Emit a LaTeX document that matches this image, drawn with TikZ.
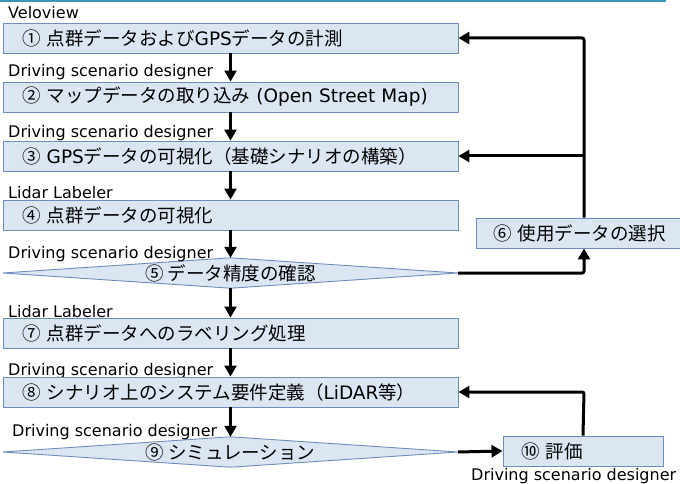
\documentclass[tikz,border=0pt]{standalone}
\usepackage{fontspec}
\setmainfont{DejaVu Sans}
\newfontfamily\jpfont{Noto Sans CJK JP}
\newfontfamily\latfont{DejaVu Sans}
\newcommand{\lat}[1]{{\latfont #1}}
\usetikzlibrary{arrows.meta,backgrounds}
\definecolor{boxfill}{RGB}{220,229,242}
\definecolor{boxline}{RGB}{110,140,188}
\definecolor{topline}{RGB}{60,150,178}
\tikzset{
  x=1pt,y=-1pt,
  boxfont/.style={font=\jpfont\fontsize{18.5}{21}\selectfont},
  stepbox/.style={draw=boxline,fill=boxfill,line width=0.9pt,minimum width=455pt,minimum height=30pt,
    text width=417pt,inner xsep=19pt,inner ysep=0pt,align=left,boxfont},
  sidebox/.style={draw=boxline,fill=boxfill,line width=0.9pt,minimum height=30pt,
    inner ysep=0pt,align=left,boxfont},
  decide/.style={rectangle,draw=none,minimum width=455pt,minimum height=30pt,inner sep=0pt,boxfont},
  decideshape/.style={draw=boxline,fill=boxfill,line width=0.9pt},
  tooltxt/.style={anchor=west,inner sep=0pt,font=\fontsize{16}{18}\selectfont},
  flow/.style={line width=2.4pt,-{Triangle[width=12pt,length=11pt]}},
  back/.style={line width=3pt,rounded corners=2pt,-{Triangle[width=12pt,length=11pt]}}
}
\begin{document}
\begin{tikzpicture}
\useasboundingbox (0,0) rectangle (680,484);
\draw[topline,line width=2pt] (0,1) -- (666,1);

\node[tooltxt] (l1) at (8,13) {Veloview};
\node[stepbox] (b1) at (230.5,38) {① 点群データおよび\lat{GPS}データの計測};
\node[tooltxt] (l2) at (8,72) {Driving scenario designer};
\node[stepbox] (b2) at (230.5,97) {② マップデータの取り込み \lat{(Open Street Map)}};
\node[tooltxt] (l3) at (8,133) {Driving scenario designer};
\node[stepbox] (b3) at (230.5,156) {③ \lat{GPS}データの可視化（基礎シナリオの構築）};
\node[tooltxt] (l4) at (8,193) {Lidar Labeler};
\node[stepbox] (b4) at (230.5,215) {④ 点群データの可視化};
\node[tooltxt] (l5) at (8,254) {Driving scenario designer};
\node[decide] (d5) at (230.5,273) {⑤ データ精度の確認};
\node[sidebox,minimum width=216pt,text width=182pt,inner xsep=17pt] (b6) at (584,233) {⑥ 使用データの選択};
\node[tooltxt] (l7) at (8,312) {Lidar Labeler};
\node[stepbox] (b7) at (230.5,333) {⑦ 点群データへのラベリング処理};
\node[tooltxt] (l8) at (8,371) {Driving scenario designer};
\node[stepbox] (b8) at (230.5,392) {⑧ シナリオ上のシステム要件定義（\lat{LiDAR}等）};
\node[tooltxt] (l9) at (12,432) {Driving scenario designer};
\node[decide] (d9) at (230.5,452) {⑨ シミュレーション};
\node[sidebox,minimum width=160pt,text width=124pt,inner xsep=18pt] (b10) at (583,451) {⑩ 評価};
\node[tooltxt] (l10) at (471,476) {Driving scenario designer};

\begin{scope}[on background layer]
\draw[decideshape] (d5.west) -- (d5.north) -- (d5.east) -- (d5.south) -- cycle;
\draw[decideshape] (d9.west) -- (d9.north) -- (d9.east) -- (d9.south) -- cycle;
\end{scope}

\coordinate (c5) at (584,273);
\coordinate (c6) at (584,38);
\coordinate (c3) at (584,156);
\coordinate (c10) at (584,392);

\draw[flow] (b1.south) -- (b2.north);
\draw[flow] (b2.south) -- (b3.north);
\draw[flow] (b3.south) -- (b4.north);
\draw[flow] (b4.south) -- (d5.north);
\draw[flow] (d5.south) -- (b7.north);
\draw[flow] (b7.south) -- (b8.north);
\draw[flow] (b8.south) -- (d9.north);

\draw[back] (d5.east) -- (c5) -- (b6.south);
\draw[back] (b6.north) -- (c6) -- (b1.east);
\draw[back] (c3) -- (b3.east);
\draw[back] (d9.east) -- (b10.west);
\draw[back] (b10.north) -- (c10) -- (b8.east);
\end{tikzpicture}
\end{document}
